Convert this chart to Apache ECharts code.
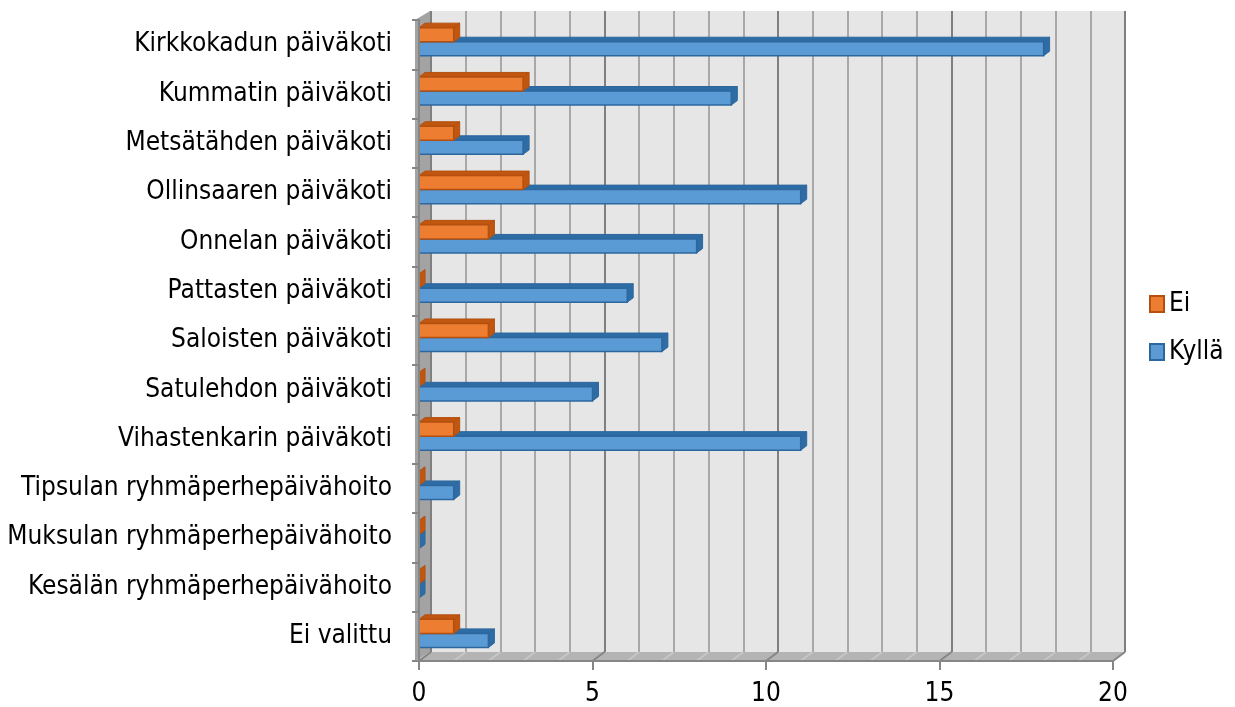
<!DOCTYPE html>
<html>
<head>
<meta charset="utf-8">
<script src="https://cdn.jsdelivr.net/npm/echarts@6/dist/echarts.min.js"></script>
<style>
  html, body { margin: 0; padding: 0; background: #fff; }
  #chart { width: 1235px; height: 707px; }
</style>
</head>
<body>
<div id="chart"></div>
<script>
const categories = [
  "Kirkkokadun päiväkoti",
  "Kummatin päiväkoti",
  "Metsätähden päiväkoti",
  "Ollinsaaren päiväkoti",
  "Onnelan päiväkoti",
  "Pattasten päiväkoti",
  "Saloisten päiväkoti",
  "Satulehdon päiväkoti",
  "Vihastenkarin päiväkoti",
  "Tipsulan ryhmäperhepäivähoito",
  "Muksulan ryhmäperhepäivähoito",
  "Kesälän ryhmäperhepäivähoito",
  "Ei valittu"
];
const eiValues = [1, 3, 1, 3, 2, 0, 2, 0, 1, 0, 0, 0, 1];
const kyllaValues = [18, 9, 3, 11, 8, 6, 7, 5, 11, 1, 0, 0, 2];

const FONT = "'DejaVu Sans Condensed', 'DejaVu Sans'";
const DX = 12, DY = -9;       // depth of the chart box
const BDX = 6, BDY = -4.5;    // depth of each bar

const chart = echarts.init(document.getElementById("chart"));

// 3D-ish bar: front face, top face, side face
function makePrism(slot, front, dark, border) {
  return function (params, api) {
    const v = api.value(0);
    const c = api.value(1);
    const p0 = api.coord([0, c]);
    const p1 = api.coord([v, c]);
    const band = api.size([0, 1])[1];
    const h = band * 0.285;
    const top = p0[1] - band * 0.345 + slot * h;
    const x0 = p0[0], x1 = p1[0];
    return {
      type: "group",
      children: [
        {
          type: "polygon",
          shape: { points: [[x0, top], [x1, top], [x1 + BDX, top + BDY], [x0 + BDX, top + BDY]] },
          style: { fill: dark, stroke: border, lineWidth: 1 }
        },
        {
          type: "polygon",
          shape: { points: [[x1, top], [x1 + BDX, top + BDY], [x1 + BDX, top + h + BDY], [x1, top + h]] },
          style: { fill: dark, stroke: border, lineWidth: 1 }
        },
        {
          type: "rect",
          shape: { x: x0, y: top, width: x1 - x0, height: h },
          style: { fill: front, stroke: border, lineWidth: 1.5 }
        }
      ]
    };
  };
}

// left wall and floor of the box
function renderFrame(params, api) {
  const r = params.coordSys;
  const left = r.x - 4, bottom = r.y + r.height;
  const children = [
    {
      type: "polygon",
      shape: { points: [[left, r.y], [left + DX + 3, r.y + DY], [left + DX + 3, bottom + DY], [left, bottom]] },
      style: { fill: "#a3a3a3" }
    },
    {
      type: "polygon",
      shape: { points: [[left, bottom], [left + DX + 3, bottom + DY], [r.x + r.width + DX, bottom + DY], [r.x + r.width, bottom]] },
      style: { fill: "#b4b4b4" }
    }
  ];
  for (let v = 0; v <= 20; v++) {
    const x = api.coord([v, 0])[0];
    children.push({
      type: "line",
      shape: { x1: x, y1: bottom, x2: x + DX, y2: bottom + DY },
      style: { stroke: v % 5 === 0 ? "#868686" : "#c6c6c6", lineWidth: 2 }
    });
  }
  return { type: "group", children: children };
}

const option = {
  animation: false,
  grid: [
    { left: 419, right: 122, top: 20, bottom: 46 },
    { left: 431, right: 110, top: 11, bottom: 55, show: true, backgroundColor: "#e6e6e6", borderWidth: 0 }
  ],
  legend: {
    orient: "vertical",
    left: 1149,
    top: 291,
    padding: 0,
    itemWidth: 14,
    itemHeight: 16,
    itemGap: 22,
    textStyle: { fontFamily: FONT, fontSize: 26, color: "#000", lineHeight: 26 },
    data: [
      { name: "Ei", icon: "rect", itemStyle: { color: "#ed7d31", borderColor: "#b4500f", borderWidth: 2 } },
      { name: "Kyllä", icon: "rect", itemStyle: { color: "#5b9bd5", borderColor: "#2d679e", borderWidth: 2 } }
    ]
  },
  xAxis: [
    {
      type: "value",
      gridIndex: 0,
      min: 0,
      max: 20,
      interval: 5,
      z: 5,
      axisLine: { show: true, lineStyle: { color: "#868686", width: 2 } },
      axisTick: { show: true, length: 9, lineStyle: { color: "#868686", width: 2 } },
      axisLabel: { fontFamily: FONT, fontSize: 26, color: "#000", margin: 20 },
      splitLine: { show: false }
    },
    {
      type: "value",
      gridIndex: 1,
      min: 0,
      max: 20,
      interval: 5,
      axisLine: { show: false },
      axisTick: { show: false },
      axisLabel: { show: false },
      minorTick: { show: false, splitNumber: 5 },
      splitLine: { show: true, lineStyle: { color: "#7f7f7f", width: 2 } },
      minorSplitLine: { show: true, lineStyle: { color: "#a8a8a8", width: 2 } }
    }
  ],
  yAxis: [
    {
      type: "category",
      gridIndex: 0,
      inverse: true,
      data: categories,
      offset: 4,
      z: 5,
      axisLine: { show: true, lineStyle: { color: "#868686", width: 2 } },
      axisTick: { show: true, length: 7, lineStyle: { color: "#868686", width: 2 } },
      axisLabel: { fontFamily: FONT, fontSize: 26, color: "#000", margin: 23, padding: [7, 0, 0, 0] }
    },
    {
      type: "value",
      gridIndex: 1,
      show: false
    }
  ],
  series: [
    {
      name: "frame",
      type: "custom",
      xAxisIndex: 0,
      yAxisIndex: 0,
      z: 1,
      silent: true,
      renderItem: renderFrame,
      data: [[0, 0]]
    },
    {
      name: "Kyllä",
      type: "custom",
      xAxisIndex: 0,
      yAxisIndex: 0,
      z: 3,
      itemStyle: { color: "#5b9bd5", borderColor: "#2d679e" },
      renderItem: makePrism(1, "#5b9bd5", "#2e6ca5", "#2d679e"),
      encode: { x: 0, y: 1 },
      data: kyllaValues.map((v, i) => [v, i])
    },
    {
      name: "Ei",
      type: "custom",
      xAxisIndex: 0,
      yAxisIndex: 0,
      z: 4,
      itemStyle: { color: "#ed7d31", borderColor: "#b4500f" },
      renderItem: makePrism(0, "#ed7d31", "#c0560f", "#b4500f"),
      encode: { x: 0, y: 1 },
      data: eiValues.map((v, i) => [v, i])
    }
  ]
};

chart.setOption(option);
</script>
</body>
</html>
